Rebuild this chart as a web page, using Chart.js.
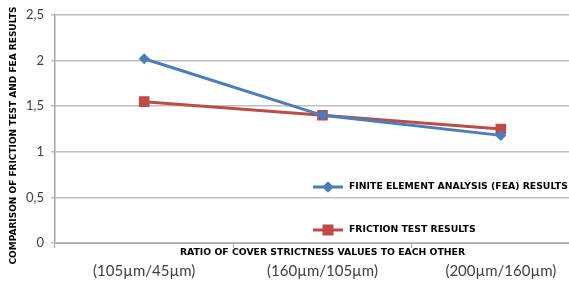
<!DOCTYPE html>
<html>
<head>
<meta charset="utf-8">
<script src="https://cdn.jsdelivr.net/npm/chart.js@4"></script>
<style>
  html, body { margin: 0; padding: 0; background: #fff; overflow: hidden; }
  #chart { display: block; }
</style>
</head>
<body>
<canvas id="chart" width="600" height="282"></canvas>
<script>
// Data
var categories = ['(105µm/45µm)', '(160µm/105µm)', '(200µm/160µm)'];
var seriesNames = ['FINITE ELEMENT ANALYSIS (FEA) RESULTS', 'FRICTION TEST RESULTS'];
var feaValues = [2.02, 1.40, 1.18];
var frictionValues = [1.55, 1.40, 1.25];
var yMin = 0, yMax = 2.5, yStep = 0.5;

var yTitle = 'COMPARISON OF FRICTION TEST AND FEA RESULTS';
var xTitle = 'RATIO OF COVER STRICTNESS VALUES TO EACH OTHER';

var blue = '#4a7ebb';
var red = '#be4b48';
var titleFont = 'bold 9.3px "DejaVu Sans", Verdana, sans-serif';

// axis titles and legend are drawn by hand: the x title sits above the tick labels,
// the legend sits inside the plot
var extras = {
    id: 'extras',
    afterDraw: function (chart) {
        var ctx = chart.ctx;
        var area = chart.chartArea;
        ctx.save();
        ctx.fillStyle = '#000';
        ctx.font = titleFont;
        ctx.textAlign = 'center';
        ctx.textBaseline = 'middle';
        ctx.fillText(xTitle, (area.left + area.right) / 2, area.bottom + 10);

        ctx.save();
        ctx.translate(13.5, 135.5);
        ctx.rotate(-Math.PI / 2);
        ctx.font = 'bold 9px "DejaVu Sans", Verdana, sans-serif';
        ctx.fillText(yTitle, 0, 0);
        ctx.restore();

        var items = [
            { y: 187, color: blue, style: 'rectRot', radius: 5.5 },
            { y: 230, color: red, style: 'rect', radius: 7.5 }
        ];
        items.forEach(function (it, i) {
            ctx.strokeStyle = it.color;
            ctx.lineWidth = 3;
            ctx.beginPath();
            ctx.moveTo(313, it.y);
            ctx.lineTo(343, it.y);
            ctx.stroke();
            ctx.fillStyle = it.color;
            Chart.helpers.drawPoint(ctx, { pointStyle: it.style, radius: it.radius, borderWidth: 0 }, 328, it.y);
            ctx.fill();
            ctx.fillStyle = '#000';
            ctx.font = titleFont;
            ctx.textAlign = 'left';
            ctx.fillText(seriesNames[i], 349, it.y);
        });
        ctx.restore();
    }
};

var chart = new Chart(
    document.getElementById('chart'),
    {
        type: 'line',
        data: {
            labels: categories,
            datasets: [
                {
                    label: seriesNames[0],
                    data: feaValues,
                    borderColor: blue,
                    backgroundColor: blue,
                    borderWidth: 3,
                    tension: 0,
                    pointStyle: 'rectRot',
                    pointRadius: 5.5,
                    pointBorderWidth: 0
                },
                {
                    label: seriesNames[1],
                    data: frictionValues,
                    borderColor: red,
                    backgroundColor: red,
                    borderWidth: 3,
                    tension: 0,
                    pointStyle: 'rect',
                    pointRadius: 7.5,
                    pointBorderWidth: 0
                }]
        },
        options: {
            responsive: false,
            animation: false,
            layout: { padding: { top: 15, right: 10, left: 0, bottom: 0 } },
            plugins: {
                legend: { display: false },
                tooltip: { enabled: false }
            },
            scales: {
                x: {
                    offset: true,
                    grid: {
                        offset: true,
                        drawOnChartArea: false,
                        drawTicks: true,
                        tickLength: 5,
                        color: '#a6a6a6',
                        lineWidth: 1
                    },
                    border: { color: '#a6a6a6', width: 1 },
                    ticks: {
                        padding: 14,
                        color: '#404040',
                        font: { family: 'Lato, "Open Sans", sans-serif', size: 15 }
                    },
                    afterFit: function (scale) { scale.height = 39; }
                },
                y: {
                    min: yMin,
                    max: yMax,
                    ticks: {
                        stepSize: yStep,
                        padding: 7,
                        color: '#404040',
                        font: { family: 'Lato, "Open Sans", sans-serif', size: 13 },
                        callback: function (v) { return String(v).replace('.', ','); }
                    },
                    grid: {
                        color: '#bfbfbf',
                        lineWidth: 1.5,
                        tickLength: 4
                    },
                    border: { color: '#a6a6a6', width: 1.5 },
                    afterFit: function (scale) { scale.width = 55; }
                }
            }
        },
        plugins: [extras]
    }
);
</script>
</body>
</html>
